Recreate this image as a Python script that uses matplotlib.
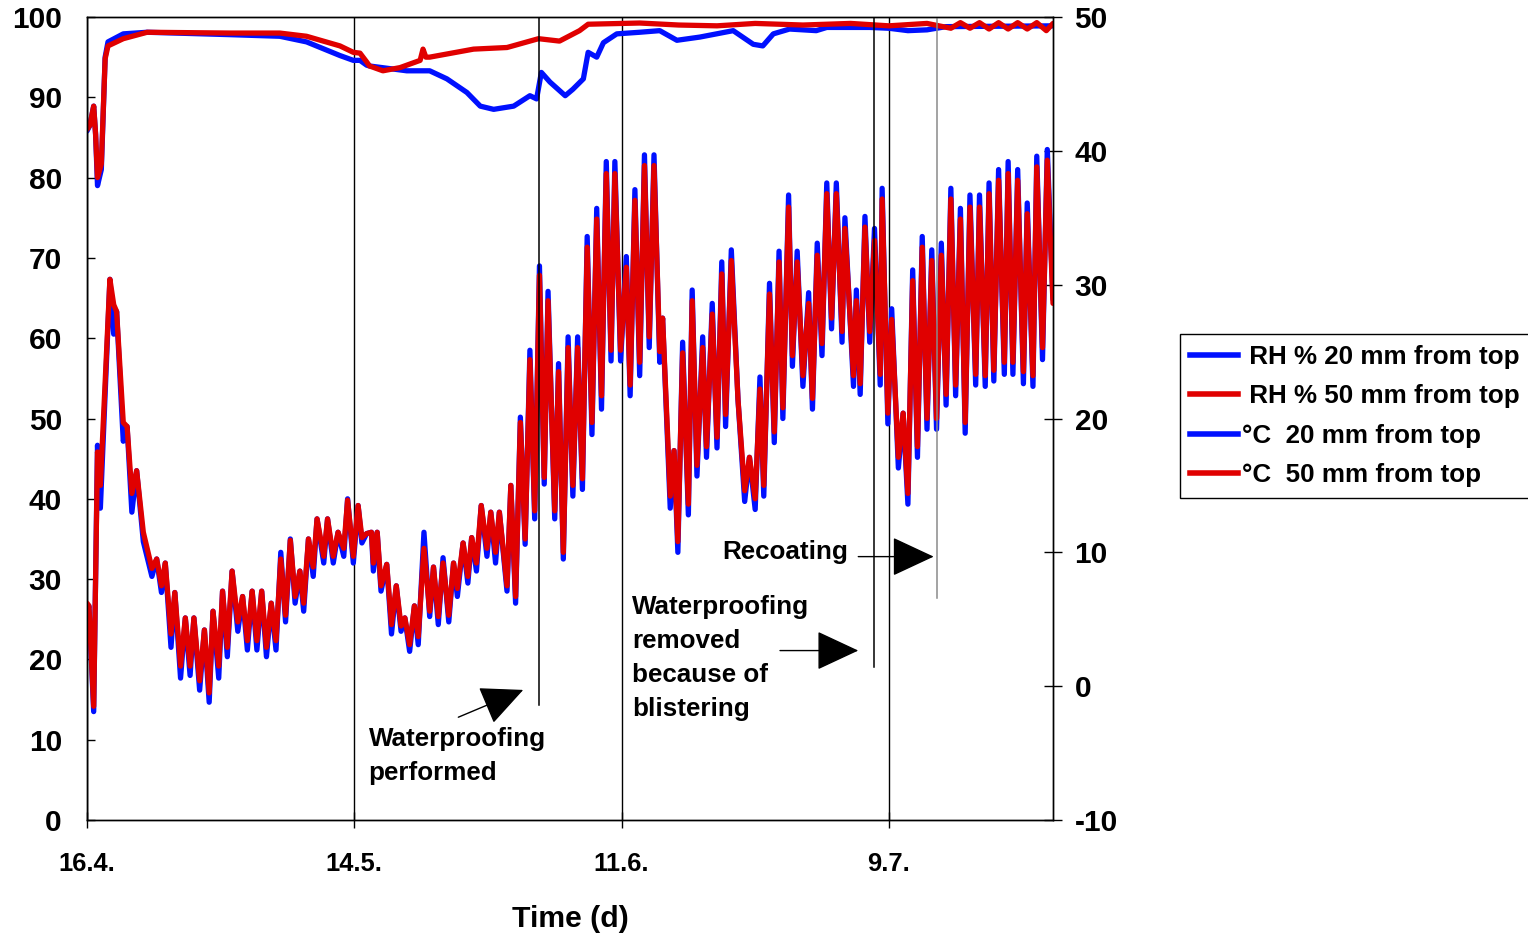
import matplotlib.pyplot as plt
from matplotlib.lines import Line2D

plt.rcParams['font.family'] = ['Liberation Sans', 'DejaVu Sans']
plt.rcParams['font.weight'] = 'bold'
plt.rcParams['axes.unicode_minus'] = False

# x axis: days since 16.4.
tick_days = [0, 28, 56, 84]
tick_labels = ['16.4.', '14.5.', '11.6.', '9.7.']

# relative humidity (%), 50 mm from top (red)
rh_days_50 = [0.0, 0.3, 0.7, 0.9, 1.1, 1.5, 1.9, 2.2, 3.8, 6.3, 15.0, 20.2, 23.0, 26.5, 27.9,
              28.6, 29.3, 29.6, 31.0, 32.8, 34.9, 35.2, 35.5, 35.9, 40.5, 44.0, 47.3, 49.5,
              51.6, 52.5, 57.9, 62.0, 66.0, 70.0, 75.0, 80.0, 84.0, 88.0, 90.5, 91.5, 92.5,
              93.5, 94.5, 95.5, 96.5, 97.5, 98.5, 99.5, 100.5, 101.2]
rh_50 = [86.0, 86.5, 88.9, 85.4, 80.0, 81.7, 94.8, 96.4, 97.3, 98.1, 98.0, 98.0, 97.6, 96.4, 95.6,
         95.5, 94.4, 93.9, 93.3, 93.7, 94.6, 96.0, 95.0, 95.0, 96.0, 96.2, 97.3, 97.0,
         98.3, 99.1, 99.25, 99.0, 98.9, 99.2, 99.0, 99.2, 98.9, 99.2, 98.6, 99.3, 98.6,
         99.3, 98.5, 99.3, 98.5, 99.3, 98.5, 99.3, 98.3, 99.2]

# relative humidity (%), 20 mm from top (blue)
rh_days_20 = [0.0, 0.3, 0.7, 0.9, 1.1, 1.5, 1.9, 2.2, 3.8, 6.3, 15.0, 20.2, 23.0, 26.5, 27.9,
              28.6, 29.3, 29.6, 33.5, 35.9, 37.7, 39.8, 41.2, 42.6, 44.7, 46.4, 47.1, 47.6,
              48.5, 50.1, 50.9, 52.0, 52.5, 53.4, 54.1, 55.5, 57.9, 60.0, 61.8, 64.2, 67.7,
              69.8, 70.8, 71.9, 73.6, 76.4, 77.5, 82.0, 84.0, 86.0, 88.0, 90.0, 101.2]
rh_20 = [85.8, 86.5, 88.9, 85.4, 79.0, 81.0, 95.0, 96.9, 97.9, 98.1, 97.8, 97.6, 96.9, 95.2, 94.6,
         94.6, 94.0, 93.9, 93.3, 93.3, 92.3, 90.6, 88.9, 88.5, 88.9, 90.2, 89.8, 93.1,
         91.9, 90.2, 91.0, 92.3, 95.6, 95.0, 96.8, 97.9, 98.1, 98.3, 97.1, 97.5, 98.3,
         96.6, 96.4, 97.9, 98.5, 98.3, 98.7, 98.7, 98.6, 98.3, 98.4, 98.8, 98.9]

# temperature (°C), daily highs and lows; 50 mm (red) and 20 mm (blue)
temp_days = [0.0, 0.2, 0.7, 1.1, 1.4, 2.4, 2.8, 3.1, 3.8, 4.2, 4.7, 5.2, 5.9, 6.8, 7.3, 7.8,
             8.2, 8.8, 9.2, 9.8, 10.3, 10.8, 11.2, 11.8, 12.3, 12.8, 13.2, 13.8, 14.2, 14.7,
             15.2, 15.8, 16.3, 16.8, 17.3, 17.8, 18.3, 18.8, 19.3, 19.8, 20.3, 20.8, 21.3,
             21.8, 22.3, 22.7, 23.2, 23.7, 24.1, 24.8, 25.2, 25.8, 26.3, 26.9, 27.3, 27.9,
             28.4, 28.8, 29.3, 29.8, 30.0, 30.4, 30.8, 31.4, 31.9, 32.4, 32.9, 33.3, 33.8,
             34.3, 34.7, 35.3, 35.9, 36.3, 36.8, 37.3, 37.9, 38.4, 38.8, 39.4, 39.9, 40.3,
             40.8, 41.3, 41.9, 42.3, 42.8, 43.2, 44.0, 44.4, 44.9, 45.4, 45.9, 46.4, 46.9,
             47.4, 47.9, 48.3, 49.0, 49.4, 49.9,
             50.4, 50.9, 51.4, 51.9, 52.4, 52.9, 53.4, 53.9, 54.4, 54.9, 55.3, 55.9, 56.5,
             56.9, 57.4, 57.9, 58.4, 58.9, 59.4, 60.0, 60.3, 61.1, 61.5, 61.9, 62.4, 63.0,
             63.4, 63.9, 64.5, 64.9, 65.5, 66.0, 66.5, 66.9, 67.5, 68.2, 68.9, 69.4, 70.0,
             70.5, 70.9, 71.5, 72.0, 72.5, 72.9, 73.5, 73.9, 74.4, 75.0, 75.6, 76.0, 76.5,
             77.0, 77.5, 78.0, 78.5, 79.1, 79.4, 80.3, 80.6, 81.0, 81.5, 82.0, 82.5, 83.1,
             83.3, 83.9, 84.3, 85.0, 85.5, 86.0, 86.5, 87.0, 87.5, 88.0, 88.5, 89.0, 89.5,
             90.0, 90.5, 91.0, 91.5, 92.0, 92.5, 93.1, 93.5, 94.1, 94.5, 95.0, 95.5, 96.1,
             96.5, 97.0, 97.5, 98.1, 98.5, 99.1, 99.5, 100.1, 100.6, 101.2]
temp_50 = [6.2, 6.0, -1.5, 17.5, 15.0, 30.4, 28.5, 28.0, 19.7, 19.4, 14.4, 16.1, 11.5, 8.8, 9.5, 7.5,
           9.2, 3.9, 7.0, 1.5, 5.1, 1.5, 5.1, 0.4, 4.2, -0.5, 5.6, 1.5, 7.1, 2.9,
           8.6, 4.8, 6.7, 3.4, 7.1, 3.4, 7.1, 2.9, 6.2, 3.4, 9.5, 5.3, 10.9,
           6.7, 8.6, 6.2, 11.0, 8.9, 12.5, 9.7, 12.5, 9.7, 11.5, 10.3, 13.9, 9.7,
           13.5, 11.1, 11.4, 11.5, 9.2, 11.5, 7.5, 9.1, 4.6, 7.5, 4.5, 5.1, 3.1,
           6.0, 3.7, 10.3, 5.6, 8.9, 5.2, 9.2, 5.3, 9.2, 7.3, 10.7, 8.2, 11.1,
           9.2, 13.5, 10.3, 13.0, 10.0, 13.0, 7.5, 15.0, 6.7, 19.7, 11.0, 24.4, 13.1,
           30.7, 15.6, 28.8, 13.1, 23.5, 10.0,
           25.3, 15.0, 25.3, 15.5, 32.8, 19.7, 34.9, 21.7, 38.3, 25.1, 38.3, 25.1, 31.3,
           22.5, 36.3, 24.2, 38.9, 26.1, 38.9, 25.0, 27.5, 14.2, 17.6, 10.8, 24.9, 13.6,
           28.8, 16.5, 25.3, 17.9, 27.8, 18.6, 30.8, 20.3, 31.8, 21.4, 14.6, 17.1, 14.0,
           22.2, 15.0, 29.3, 19.0, 31.7, 20.8, 35.8, 24.7, 31.7, 23.2, 28.6, 21.5, 32.2,
           25.6, 36.8, 27.5, 36.8, 26.5, 34.2, 23.2, 28.8, 22.6, 34.3, 26.5, 33.3, 23.3,
           36.4, 20.4, 27.4, 17.1, 20.4, 14.4, 30.3, 17.9, 32.8, 20.0, 31.8, 20.0, 32.2,
           21.8, 36.4, 22.5, 34.9, 19.7, 35.8, 23.3, 35.8, 23.2, 36.8, 23.6, 37.8, 24.2,
           38.3, 24.2, 37.8, 23.5, 35.3, 23.2, 38.8, 25.3, 39.3, 28.6]
temp_20 = [5.5, 6.0, -1.9, 18.0, 13.3, 30.4, 26.3, 28.0, 18.3, 19.4, 13.0, 16.1, 10.8, 8.2, 9.5, 7.0,
           9.2, 2.9, 7.0, 0.6, 5.1, 0.8, 5.1, -0.3, 4.2, -1.2, 5.6, 0.6, 7.1, 2.2,
           8.6, 4.1, 6.7, 2.7, 7.1, 2.7, 7.1, 2.2, 6.2, 2.7, 10.0, 4.8, 11.0,
           6.2, 8.6, 5.6, 11.0, 8.2, 12.5, 9.2, 12.5, 9.2, 11.5, 9.7, 14.0, 9.2,
           13.5, 10.7, 11.4, 11.5, 8.6, 11.5, 7.1, 9.1, 3.9, 7.5, 4.1, 5.1, 2.6,
           6.0, 3.1, 11.5, 5.2, 8.9, 4.6, 9.6, 4.8, 9.2, 6.7, 10.7, 7.7, 11.1,
           8.6, 13.5, 9.7, 13.0, 9.2, 13.0, 7.1, 15.0, 6.2, 20.1, 10.6, 25.1, 12.5,
           31.4, 15.1, 29.5, 12.5, 24.1, 9.5,
           26.1, 14.2, 26.1, 14.7, 33.6, 18.8, 35.7, 20.7, 39.2, 24.3, 39.2, 24.3, 32.1,
           21.7, 37.1, 23.2, 39.7, 25.3, 39.7, 24.2, 27.5, 13.3, 17.6, 10.0, 25.7, 12.8,
           29.6, 15.7, 26.1, 17.1, 28.6, 17.8, 31.7, 19.4, 32.6, 21.4, 13.8, 17.1, 13.2,
           23.1, 14.2, 30.1, 18.2, 32.5, 20.0, 36.7, 23.9, 32.5, 22.4, 29.4, 20.7, 33.1,
           24.7, 37.6, 26.7, 37.6, 25.7, 35.0, 22.4, 29.6, 21.8, 35.1, 25.7, 34.2, 22.5,
           37.2, 19.6, 28.2, 16.3, 20.4, 13.6, 31.1, 17.1, 33.6, 19.2, 32.6, 19.2, 33.1,
           21.0, 37.2, 21.7, 35.7, 18.9, 36.7, 22.5, 36.7, 22.4, 37.6, 22.8, 38.6, 23.3,
           39.2, 23.3, 38.6, 22.6, 36.1, 22.4, 39.6, 24.4, 40.1, 28.9]

# event lines (day, lower end on the RH axis, colour)
event_days = [47.3, 82.4, 89.1]
event_bottoms = [14.3, 19.1, 27.7]
event_colors = ['black', 'black', '#8a8a8a']

BLUE = '#0010ff'
RED = '#e00000'
LW = 3.8
FS = 18.7

fig = plt.figure(figsize=(15.28, 9.33), dpi=100)
ax = fig.add_axes([87 / 1528, 1 - 820 / 933, (1053 - 87) / 1528, (820 - 17) / 933])

ax.plot(rh_days_20, rh_20, color=BLUE, lw=LW, solid_capstyle='round')
ax.plot(rh_days_50, rh_50, color=RED, lw=LW, solid_capstyle='round')
ax.set_ylim(0, 100)
ax.set_xlim(0, 101.2)
ax.set_yticks(range(0, 101, 10))
ax.set_xticks(tick_days)
ax.set_xticklabels(tick_labels)
ax.xaxis.grid(True, color='black', lw=1.0)
ax.set_axisbelow(True)

ax2 = ax.twinx()
ax2.plot(temp_days, temp_20, color=BLUE, lw=LW, solid_capstyle='round')
ax2.plot(temp_days, temp_50, color=RED, lw=LW, solid_capstyle='round')
ax2.set_ylim(-10, 50)
ax2.set_yticks(range(-10, 51, 10))

for a in (ax, ax2):
    for s in a.spines.values():
        s.set_linewidth(1.0)
ax.tick_params(axis='y', direction='in', length=6, width=1.0, labelsize=21.5, pad=18)
ax.tick_params(axis='x', direction='inout', length=12, width=1.0, labelsize=18.4, pad=17)
ax2.tick_params(axis='y', direction='inout', length=13, width=1.0, labelsize=21.5, pad=9)

ax.set_xlabel('Time (d)', fontsize=21.7, fontweight='bold', labelpad=21)

# event lines, drawn on the temperature axes so they sit above the curves
for d, b, c in zip(event_days, event_bottoms, event_colors):
    ax2.plot([d, d], [b * 0.6 - 10, 50], color=c, lw=1.1)

# annotations (RH axis coordinates)
arrow = dict(arrowstyle='-|>,head_length=0.9,head_width=0.42', color='black', lw=1.0,
             mutation_scale=30, shrinkA=0, shrinkB=0)
ax.annotate('', xy=(45.7, 16.2), xytext=(38.9, 12.8), arrowprops=arrow)
ax.annotate('', xy=(80.8, 21.1), xytext=(72.6, 21.1), arrowprops=arrow)
ax.annotate('', xy=(88.7, 32.8), xytext=(80.8, 32.8), arrowprops=arrow)
ax.text(29.5, 8.0, 'Waterproofing\nperformed', fontsize=FS, ha='left', va='center', linespacing=1.52)
ax.text(57.1, 20.2, 'Waterproofing\nremoved\nbecause of\nblistering', fontsize=FS,
        ha='left', va='center', linespacing=1.52)
ax.text(66.5, 33.4, 'Recoating', fontsize=FS, ha='left', va='center')

handles = [Line2D([], [], color=BLUE, lw=4), Line2D([], [], color=RED, lw=4),
           Line2D([], [], color=BLUE, lw=4), Line2D([], [], color=RED, lw=4)]
labels = [' RH % 20 mm from top', ' RH % 50 mm from top', '°C  20 mm from top', '°C  50 mm from top']
leg = fig.legend(handles, labels, loc='center left', bbox_to_anchor=(1180 / 1528, 1 - 416 / 933),
                 frameon=True, fancybox=False, edgecolor='black', framealpha=1,
                 handlelength=1.85, handletextpad=0.15, borderpad=0.4, labelspacing=0.6,
                 borderaxespad=0, prop={'size': FS, 'weight': 'bold'})
leg.get_frame().set_linewidth(1.0)

fig.savefig('out.png', dpi=100)
